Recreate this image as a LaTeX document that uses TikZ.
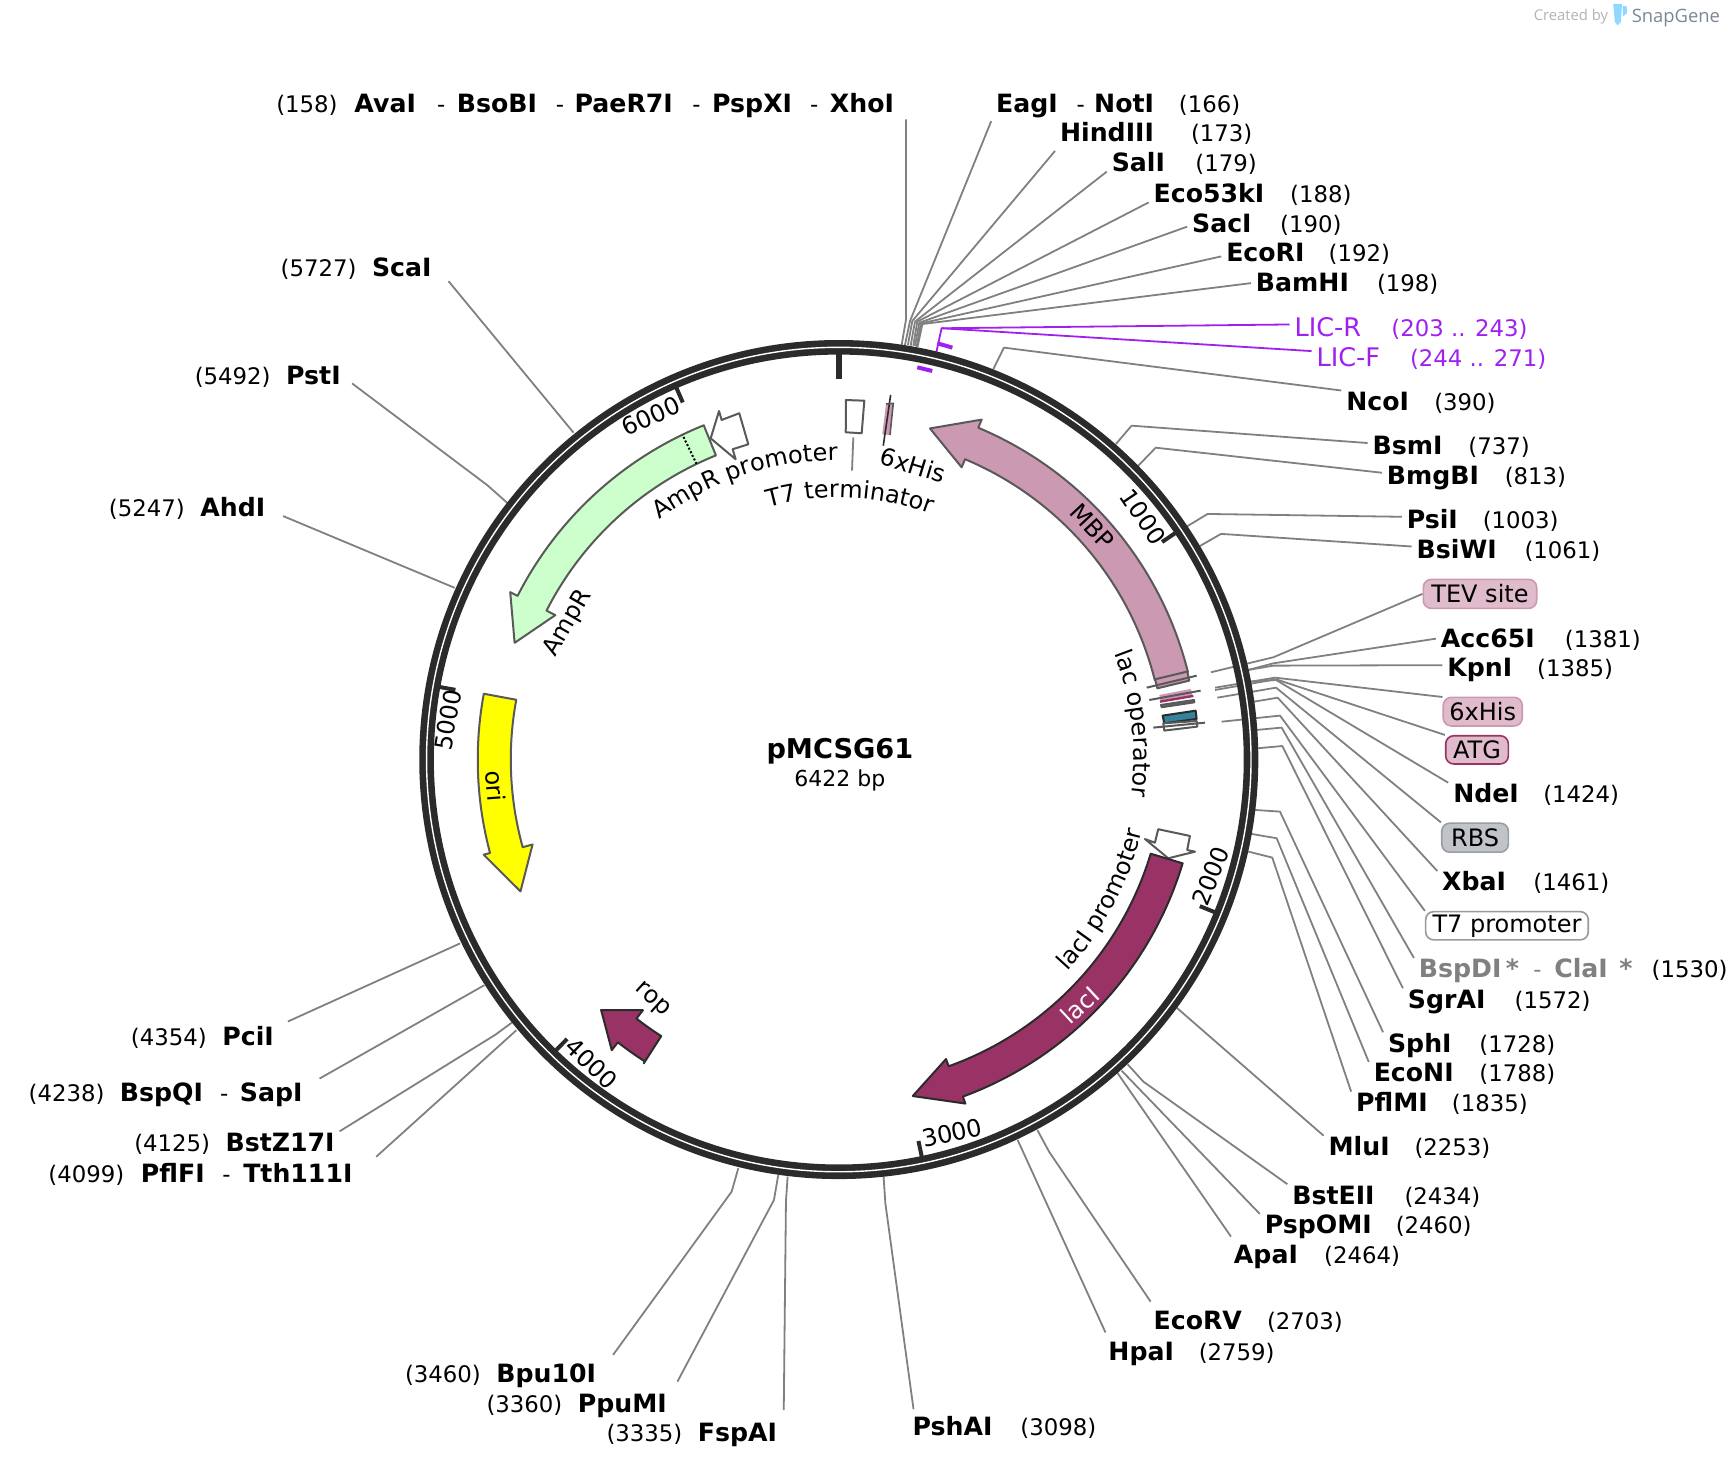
\documentclass[tikz,border=0pt]{standalone}
\usepackage{xcolor}
\usepackage{fontspec}
\setmainfont{DejaVu Sans}
\newfontfamily\logofont{Open Sans}
\usetikzlibrary{decorations.text}
\definecolor{ringcol}{HTML}{2B2B2B}
\definecolor{leadcol}{HTML}{808080}
\definecolor{liccol}{HTML}{A020F0}
\definecolor{mbpcol}{HTML}{CC99B2}
\definecolor{ampcol}{HTML}{CCFFCC}
\definecolor{oricol}{HTML}{FFFF00}
\definecolor{laccol}{HTML}{993366}
\definecolor{tealcol}{HTML}{31849B}
\definecolor{tagcol}{HTML}{E0BBCC}
\definecolor{rbscol}{HTML}{C0C4C9}
\definecolor{logoblue}{HTML}{8FD8FF}
\definecolor{logogray}{HTML}{7B8794}
\newcommand{\curvefont}{\fontsize{12}{14}\selectfont}

\begin{document}
\begin{tikzpicture}[x=.5504pt,y=-.5504pt,line join=round]
  \tikzstyle{site}=[anchor=base west,xshift=-2.5pt,yshift=-.5pt,inner sep=0pt,outer sep=2.5pt,text height=7.5pt,text depth=2pt,font=\fontsize{12.6}{14}\selectfont\bfseries]
  \tikzstyle{graysite}=[site,text=leadcol]
  \tikzstyle{sitepos}=[site,font=\fontsize{11.4}{14}\selectfont]
  \tikzstyle{licname}=[sitepos,text=liccol,font=\fontsize{12.8}{14}\selectfont]
  \tikzstyle{licpos}=[sitepos,text=liccol]
  \tikzstyle{tag}=[rounded corners=4pt,line width=.8pt,inner sep=0pt,align=center,font=\fontsize{12}{14}\selectfont]
  \tikzstyle{leader}=[draw=leadcol,line width=.9pt]
  \tikzstyle{licline}=[draw=liccol,line width=.9pt]
  \tikzstyle{licmark}=[draw=liccol,line width=2pt]
  \tikzstyle{feat}=[draw=black!65,line width=1pt]
  \tikzstyle{featdark}=[draw=ringcol,line width=1pt]
  \tikzstyle{tick}=[draw=ringcol,line width=2pt]
  \tikzstyle{ticktext}=[inner sep=0pt,font=\curvefont]

  \useasboundingbox (0,0) rectangle (1568,1335.4);

  \node[site] (ava) at (322,101) {AvaI};
  \node[sitepos] (avapos) at (251,101) {(158)};
  \node[sitepos] (dasha) at (397,101) {-};
  \node[site] (bso) at (415,101) {BsoBI};
  \node[sitepos] (dashb) at (505,101) {-};
  \node[site] (pae) at (522,101) {PaeR7I};
  \node[sitepos] (dashc) at (629,101) {-};
  \node[site] (psp) at (647,101) {PspXI};
  \node[sitepos] (dashd) at (736,101) {-};
  \node[site] (xho) at (754,101) {XhoI};
  \node[site] (eag) at (905,101) {EagI};
  \node[sitepos] (dashe) at (978,101) {-};
  \node[site] (not) at (994,101) {NotI};
  \node[sitepos] (notpos) at (1071,101) {(166)};
  \node[site] (hind) at (963,128) {HindIII};
  \node[sitepos] (hindpos) at (1082,128) {(173)};
  \node[site] (sal) at (1010,155) {SalI};
  \node[sitepos] (salpos) at (1086,155) {(179)};
  \node[site] (ecok) at (1048,183) {Eco53kI};
  \node[sitepos] (ecokpos) at (1172,183) {(188)};
  \node[site] (sac) at (1083,210) {SacI};
  \node[sitepos] (sacpos) at (1163,210) {(190)};
  \node[site] (ecor) at (1114,237) {EcoRI};
  \node[sitepos] (ecorpos) at (1207,237) {(192)};
  \node[site] (bam) at (1141,264) {BamHI};
  \node[sitepos] (bampos) at (1251,264) {(198)};
  \node[licname] (licr) at (1176,305) {LIC-R};
  \node[licpos] (licrpos) at (1264,305) {(203 .. 243)};
  \node[licname] (licf) at (1196,332) {LIC-F};
  \node[licpos] (licfpos) at (1281,332) {(244 .. 271)};
  \node[site] (nco) at (1223,372) {NcoI};
  \node[sitepos] (ncopos) at (1303,372) {(390)};
  \node[site] (bsm) at (1247,412) {BsmI};
  \node[sitepos] (bsmpos) at (1334,412) {(737)};
  \node[site] (bmg) at (1260,439) {BmgBI};
  \node[sitepos] (bmgpos) at (1367,439) {(813)};
  \node[site] (psi) at (1278,479) {PsiI};
  \node[sitepos] (psipos) at (1347,479) {(1003)};
  \node[site] (bsi) at (1287,506) {BsiWI};
  \node[sitepos] (bsipos) at (1385,506) {(1061)};
  \node[tag,draw=mbpcol,fill=tagcol,minimum width=56.7pt,minimum height=14.5pt] (tevtag) at (1344.5,539.5) {TEV site};
  \node[site] (acc) at (1309,587) {Acc65I};
  \node[sitepos] (accpos) at (1421.7,587) {(1381)};
  \node[site] (kpn) at (1314.8,613.8) {KpnI};
  \node[sitepos] (kpnpos) at (1396.5,613.8) {(1385)};
  \node[tag,draw=mbpcol,fill=tagcol,minimum width=39.5pt,minimum height=14.3pt] (histag) at (1347,646.5) {6xHis};
  \node[tag,draw=laccol,fill=tagcol,minimum width=31.3pt,minimum height=14.1pt] (atgtag) at (1341.8,681.2) {ATG};
  \node[site] (nde) at (1320.2,728.3) {NdeI};
  \node[sitepos] (ndepos) at (1402,728.3) {(1424)};
  \node[tag,draw=rbscol!80!black,fill=rbscol,minimum width=33.3pt,minimum height=14.5pt] (rbstag) at (1340,761) {RBS};
  \node[site] (xba) at (1310.2,808.5) {XbaI};
  \node[sitepos] (xbapos) at (1393,808.5) {(1461)};
  \node[tag,draw=black!40,fill=white,minimum width=81.3pt,minimum height=14.1pt] (tsevtag) at (1369,841) {T7 promoter};
  \node[graysite] (bspd) at (1289,887.5) {BspDI};
  \node[graysite] (stara) at (1368,887.5) {*};
  \node[sitepos,text=leadcol] (dashf) at (1393,887.5) {-};
  \node[graysite] (cla) at (1412,887.5) {ClaI};
  \node[graysite] (starb) at (1471,887.5) {*};
  \node[sitepos] (clapos) at (1500.5,887.5) {(1530)};
  \node[site] (sgr) at (1279,915) {SgrAI};
  \node[sitepos] (sgrpos) at (1376,915) {(1572)};
  \node[site] (sph) at (1261,955) {SphI};
  \node[sitepos] (sphpos) at (1344,955) {(1728)};
  \node[site] (econ) at (1248,982) {EcoNI};
  \node[sitepos] (econpos) at (1344,982) {(1788)};
  \node[site] (pfl) at (1232,1009) {PflMI};
  \node[sitepos] (pflpos) at (1319,1009) {(1835)};
  \node[site] (mlu) at (1207,1049) {MluI};
  \node[sitepos] (mlupos) at (1285,1049) {(2253)};
  \node[site] (bste) at (1174,1093) {BstEII};
  \node[sitepos] (bstepos) at (1276,1093) {(2434)};
  \node[site] (pspo) at (1149,1120) {PspOMI};
  \node[sitepos] (pspopos) at (1268,1120) {(2460)};
  \node[site] (apa) at (1121,1147) {ApaI};
  \node[sitepos] (apapos) at (1203,1147) {(2464)};
  \node[site] (ecov) at (1048,1207) {EcoRV};
  \node[sitepos] (ecovpos) at (1151,1207) {(2703)};
  \node[site] (hpa) at (1007,1235) {HpaI};
  \node[sitepos] (hpapos) at (1089,1235) {(2759)};
  \node[site] (psh) at (829,1303) {PshAI};
  \node[sitepos] (pshpos) at (927,1303) {(3098)};
  \node[site] (fsp) at (634,1309) {FspAI};
  \node[sitepos] (fsppos) at (551,1309) {(3335)};
  \node[site] (ppu) at (525,1282) {PpuMI};
  \node[sitepos] (ppupos) at (442,1282) {(3360)};
  \node[site] (bpu) at (451,1255) {Bpu10I};
  \node[sitepos] (bpupos) at (368,1255) {(3460)};
  \node[site] (pflf) at (128,1073) {PflFI};
  \node[sitepos] (pflfpos) at (44,1073) {(4099)};
  \node[sitepos] (dashg) at (202,1073) {-};
  \node[site] (tth) at (221,1073) {Tth111I};
  \node[site] (bstz) at (205,1045) {BstZ17I};
  \node[sitepos] (bstzpos) at (122,1045) {(4125)};
  \node[site] (bspq) at (109,1000) {BspQI};
  \node[sitepos] (bspqpos) at (26,1000) {(4238)};
  \node[sitepos] (dashh) at (200,1000) {-};
  \node[site] (sap) at (218,1000) {SapI};
  \node[site] (pci) at (202,949) {PciI};
  \node[sitepos] (pcipos) at (119,949) {(4354)};
  \node[site] (ahd) at (182,468) {AhdI};
  \node[sitepos] (ahdpos) at (99,468) {(5247)};
  \node[site] (pst) at (260,348) {PstI};
  \node[sitepos] (pstpos) at (177,348) {(5492)};
  \node[site] (sca) at (338,250) {ScaI};
  \node[sitepos] (scapos) at (255,250) {(5727)};

  \coordinate (xhoend) at (823,108.4);
  \coordinate (fspend) at (712,1281);

  \draw[leader] (819.1,313.4) -- (823,290.7) -- (xhoend);
  \draw[leader] (822.1,313.4) -- (826.7,291.6) -- (eag.south west);
  \draw[leader] (824.8,313.4) -- (828.8,291.6) -- (hind.south west);
  \draw[leader] (827.3,314) -- (831.2,292.2) -- (sal.base west);
  \draw[leader] (829.7,314) -- (833.3,292.2) -- (ecok.base west);
  \draw[leader] (831.2,314.3) -- (835.1,293.2) -- (sac.west);
  \draw[leader] (832.7,315) -- (836.6,293.8) -- (ecor.west);
  \draw[leader] (833.6,315) -- (837.9,294.4) -- ([yshift=1.5pt]bam.west);
  \draw[leader] (902.3,335.5) -- (912,315.8) -- (nco.north west);
  \draw[leader] (1013.8,403.3) -- (1028,386.7) -- ([yshift=3pt]bsm.west);
  \draw[leader] (1034.1,423) -- (1049.9,406.7) -- ([yshift=3pt]bmg.west);
  \draw[leader] (1078,478.4) -- (1097,466.9) -- ([yshift=3pt]psi.west);
  \draw[leader] (1090.1,496) -- (1109.2,485) -- ([yshift=3pt]bsi.west);
  \draw[leader] (1100.1,610.7) -- (1156.8,597.1) -- (tevtag.west);
  \draw[leader] (1134,608.6) -- (1156.8,602.6) -- ([yshift=1.5pt]acc.west);
  \draw[leader] (1134,608.6) -- (1156.8,604.7) -- ([yshift=3pt]kpn.west);
  \draw[leader] (1103.8,624.7) -- (1158.3,615.6) -- (histag.160);
  \draw[leader] (1103.8,626.8) -- (1159.2,617.1) -- (atgtag.north west);
  \draw[leader] (1135.6,619.2) -- (1159.2,617.7) -- (nde.north west);
  \draw[leader] (1105.9,633.8) -- (1159.2,624.7) -- (rbstag.north west);
  \draw[leader] (1139.2,637.4) -- (1160.7,633.8) -- (xba.north west);
  \draw[leader] (1109.8,655.6) -- (1162.8,650.1) -- (tsevtag.north west);
  \draw[leader] (1141.6,663.1) -- (1164.3,661) -- (bspd.north west);
  \draw[leader] (1142.2,679.8) -- (1164.9,677.7) -- (sgr.north west);
  \draw[leader] (1140,735.8) -- (1162.8,737.3) -- (sph.north west);
  \draw[leader] (1137,757.6) -- (1159.8,761.5) -- (econ.north west);
  \draw[leader] (1134,773.6) -- (1155.8,779.1) -- (pfl.north west);
  \draw[leader] (1068.9,915.4) -- (mlu.north west);
  \draw[leader] (1024.4,966.9) -- (1038.7,982.6) -- (bste.north west);
  \draw[leader] (1019,972.7) -- (pspo.north west);
  \draw[leader] (1015,974.5) -- ([xshift=1pt,yshift=3.5pt]apa.north west);
  \draw[leader] (942.4,1026.6) -- (953,1046.2) -- ([xshift=1pt,yshift=4pt]ecov.north west);
  \draw[leader] (924.5,1035.6) -- ([xshift=1pt,yshift=4pt]hpa.north west);
  \draw[leader] (802.7,1068.9) -- (804.3,1093.1) -- ([xshift=3pt,yshift=3pt]psh.north west);
  \draw[leader] (715.5,1068.9) -- (714,1091.6) -- (fspend);
  \draw[leader,shorten >=6pt] (707,1067.4) -- (703.1,1090.1) -- (ppu.north east);
  \draw[leader] (670.7,1061.3) -- (664.7,1082.5) -- ([xshift=6pt,yshift=3.8pt]bpu.north east);
  \draw[leader] (469,936) -- ([xshift=9.4pt,yshift=2.7pt]tth.north east);
  \draw[leader] (465,929) -- (450,940) -- (bstz.north east);
  \draw[leader] (440,895) -- ([xshift=6pt,yshift=1.6pt]sap.north east);
  \draw[leader,shorten >=5pt] (418,857) -- (pci.north east);
  \draw[leader,shorten >=7pt] (413,534) -- (ahd.east);
  \draw[leader,shorten >=4pt] (461,457) -- (443,441) -- (pst.east);
  \draw[leader] (521,393) -- ([xshift=6pt,yshift=2pt]sca.south east);

  \draw[licline] (849.4,325.5) -- (855.4,298.2) -- (licr.170);
  \draw[licline] (855.4,298.2) -- (licf.165);
  \draw[licmark] (851.5,311.9) -- (865.2,315.8);
  \draw[licmark] (833.3,333.7) -- (846.9,337);

  \draw[draw=ringcol,line width=3.3pt,double=white,double distance=.7pt] (762,690) circle [radius=374.5];

  \begin{scope}[shift={(762,690)},y=.5504pt]
    \draw[tick,line width=2.8pt] (90:369) -- (90:346);
    \draw[tick] (33.94:369) -- (33.94:354);
    \draw[tick] (-22.1:369) -- (-22.1:354);
    \draw[tick] (-78.2:369) -- (-78.2:354);
    \draw[tick] (-134.2:369) -- (-134.2:354);
    \draw[tick] (-190.3:369) -- (-190.3:354);
    \draw[tick] (113.6:369) -- (113.6:354);

    \draw[feat,fill=mbpcol] (14.1:296) arc[start angle=14.1,end angle=67.2,radius=296] -- (67.2:288) -- (74.6:312) -- (67.2:335) -- (67.2:327) arc[start angle=67.2,end angle=14.1,radius=327] -- cycle;
    \draw[feat,fill=ampcol] (112:298) arc[start angle=112,end angle=153,radius=298] -- (153:289) -- (160.2:313) -- (153:335) -- (153:327.5) arc[start angle=153,end angle=112,radius=327.5] -- cycle;
    \draw[densely dotted,line width=1pt] (115.7:298) -- (115.7:327.3);
    \draw[feat,fill=oricol] (169.5:298) arc[start angle=169.5,end angle=195.5,radius=298] -- (195.5:288.7) -- (202.5:313) -- (195:334) -- (195:328) arc[start angle=195,end angle=169.5,radius=328] -- cycle;
    \draw[featdark,fill=laccol] (237.3:298.6) arc[start angle=237.3,end angle=232,radius=298.6] -- (232:289) -- (226.5:313.7) -- (232:335) -- (232:326) arc[start angle=232,end angle=237.3,radius=326] -- (237.3:328) -- cycle;

    \path[decorate,decoration={text along path,text align=center,text={|\curvefont|T7 terminator}}] (107.5:238) arc[start angle=107.5,end angle=67.5,radius=238];
    \path[decorate,decoration={text along path,text align=center,text={|\curvefont|AmpR promoter}}] (127.5:272) arc[start angle=127.5,end angle=89.5,radius=272];
    \path[decorate,decoration={text along path,text align=center,text={|\curvefont|lac operator}}] (22:268) arc[start angle=22,end angle=-8,radius=268];
    \path[decorate,decoration={text along path,text align=center,text={|\curvefont|lacI promoter}}] (-45:283) arc[start angle=-45,end angle=-11,radius=283];
  \end{scope}

  \draw[feat,fill=white] (1052.2,753.3) -- (1081,759.4) -- (1078.5,772.2) -- (1085.6,773.7) -- (1061.3,779.7) -- (1040.1,762.2) -- (1049.2,765.5) -- cycle;

  \begin{scope}[shift={(762,690)},y=.5504pt]
    \draw[featdark,fill=laccol] (-16.8:296) arc[start angle=-16.8,end angle=-70.3,radius=296] -- (-70.3:289) -- (-77.6:313) -- (-69.8:333) -- (-69.8:326.3) arc[start angle=-69.8,end angle=-16.8,radius=326.3] -- cycle;
  \end{scope}

  \draw[feat,fill=white] (671.6,375.4) -- (679.8,403.6) -- (665.6,408.1) -- (668.3,417.2) -- (645.6,398.2) -- (653.2,373.4) -- (655.6,381.5) -- cycle;
  \draw[feat] (768.5,363.4) -- (785.2,364) -- (782.8,393.6) -- (768.3,392.7) -- cycle;
  \draw[leader] (775.2,397.3) -- (774,427.6);
  \fill[mbpcol] (804.9,367) -- (811.5,366.4) -- (808.5,395.2) -- (801.5,394.5) -- cycle;
  \draw[featdark,line width=.8pt] (809.1,358.8) -- (802.4,404.9);
  \draw[feat,line width=.8pt] (804.9,367) -- (811.5,366.4) -- (808.5,395.2);

  \draw[feat,fill=mbpcol] (1049.3,617.1) -- (1078.6,610.1) -- (1080.4,618.3) -- (1051.4,625.3) -- cycle;
  \draw[feat] (1041.7,624.7) -- (1087.1,613.8);
  \fill[mbpcol] (1053.2,631.3) -- (1081.7,625.9) -- (1083.5,632.2) -- (1054.4,637.4) -- cycle;
  \draw[feat] (1044.1,635.9) -- (1090.7,627.4);
  \draw[draw=laccol,line width=1.2pt] (1053.8,637.4) -- (1084.1,632.2);
  \draw[feat,fill=black!45] (1054.7,640.4) -- (1084.7,635.9) -- (1085,638) -- (1055.3,642.5) -- cycle;
  \draw[featdark,fill=tealcol] (1056.2,650.1) -- (1086.2,645.6) -- (1087.1,653.1) -- (1057.7,657.1) -- cycle;
  \draw[feat,fill=white] (1056.8,657.1) -- (1087.1,655) -- (1087.7,660.1) -- (1057.7,663.7) -- cycle;
  \draw[feat] (1047.7,661) -- (1094.7,656.5);

  \node[ticktext,rotate=-56] (tka) at (1038.6,469.4) {1000};
  \node[ticktext,rotate=68] (tkb) at (1100,796) {2000};
  \node[ticktext,rotate=12] (tkc) at (865,1029) {3000};
  \node[ticktext,rotate=-44] (tkd) at (537,966) {4000};
  \node[ticktext,rotate=80] (tke) at (407,654) {5000};
  \node[ticktext,rotate=24] (tkf) at (591,378) {6000};

  \node[ticktext,rotate=-47] (mbp) at (992.6,478.4) {MBP};
  \node[ticktext,rotate=60] (ampr) at (516.2,566.2) {AmpR};
  \node[ticktext,rotate=-86] (ori) at (450,714) {ori};
  \node[ticktext,rotate=43,text=white] (laci) at (981.1,913) {lacI};
  \node[ticktext,rotate=-42] (rop) at (592,908.4) {rop};
  \node[ticktext,rotate=-17] (hislabel) at (829.7,422.4) {6xHis};

  \node[inner sep=0pt,font=\fontsize{13.6}{16}\selectfont\bfseries] (plasmid) at (763,682) {pMCSG61};
  \node[inner sep=0pt,font=\fontsize{11}{14}\selectfont] (plength) at (763,709) {6422 bp};

  \node[anchor=base west,inner sep=0pt,text=black!30,font=\fontsize{7.4}{9}\selectfont\logofont] (created) at (1393,19) {Created by};
  \node[anchor=base west,inner sep=0pt,text=logogray,font=\fontsize{9.2}{11}\selectfont\logofont] (snapgene) at (1482,20) {SnapGene};
  \fill[logoblue] (1465.5,3.5) -- (1473.5,3.5) -- (1472.5,20) -- (1469.5,23) -- (1467,20) -- cycle;
  \fill[logoblue] (1474,5) -- (1478,6) -- (1478,12) -- (1474.5,15) -- cycle;
\end{tikzpicture}
\end{document}
